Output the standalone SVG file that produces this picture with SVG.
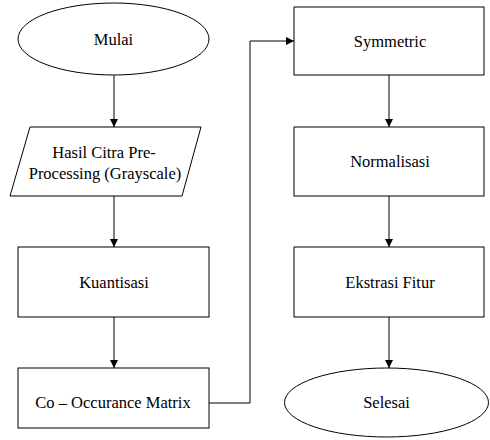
<svg xmlns="http://www.w3.org/2000/svg" width="490" height="440" viewBox="0 0 490 440">
<style>
.s{fill:#fff;stroke:#000;stroke-width:1}
.t{font-family:"Liberation Serif","Times New Roman",serif;font-size:16.5px;fill:#000;text-anchor:middle}
.c{fill:none;stroke:#000;stroke-width:1}
</style>
<defs>
<marker id="a" viewBox="0 0 10 10" refX="10" refY="5" markerWidth="8" markerHeight="8" markerUnits="userSpaceOnUse" orient="auto">
<path d="M0,0L10,5L0,10z" fill="#000"/>
</marker>
</defs>
<rect width="490" height="440" fill="#fff"/>
<g id="connectors">
<path class="c" d="M114,75V127" marker-end="url(#a)"/>
<path class="c" d="M114,196V247" marker-end="url(#a)"/>
<path class="c" d="M114,317V368" marker-end="url(#a)"/>
<path class="c" d="M209,403H250V41H294" marker-end="url(#a)"/>
<path class="c" d="M389,75V127" marker-end="url(#a)"/>
<path class="c" d="M389,196V247" marker-end="url(#a)"/>
<path class="c" d="M389,317V368" marker-end="url(#a)"/>
</g>
<g id="mulai"><ellipse class="s" cx="113.5" cy="39" rx="95.5" ry="36"/><text class="t" x="113.5" y="45">Mulai</text></g>
<g id="hasil"><polygon class="s" points="30,127 201,127 182,196 10,196"/><text class="t" x="104" y="158">Hasil Citra Pre-</text><text class="t" x="105" y="179">Processing (Grayscale)</text></g>
<g id="kuantisasi"><rect class="s" x="18" y="247" width="191" height="70"/><text class="t" x="114" y="288">Kuantisasi</text></g>
<g id="cooc"><rect class="s" x="18" y="368" width="191" height="60"/><text class="t" x="113" y="408">Co – Occurance Matrix</text></g>
<g id="symmetric"><rect class="s" x="294" y="7" width="190" height="68"/><text class="t" x="390" y="47">Symmetric</text></g>
<g id="normalisasi"><rect class="s" x="294" y="127" width="190" height="69"/><text class="t" x="390" y="167">Normalisasi</text></g>
<g id="ekstrasi"><rect class="s" x="294" y="247" width="190" height="70"/><text class="t" x="390" y="288">Ekstrasi Fitur</text></g>
<g id="selesai"><ellipse class="s" cx="386.5" cy="402.5" rx="102" ry="34.5"/><text class="t" x="386.5" y="408">Selesai</text></g>
</svg>
